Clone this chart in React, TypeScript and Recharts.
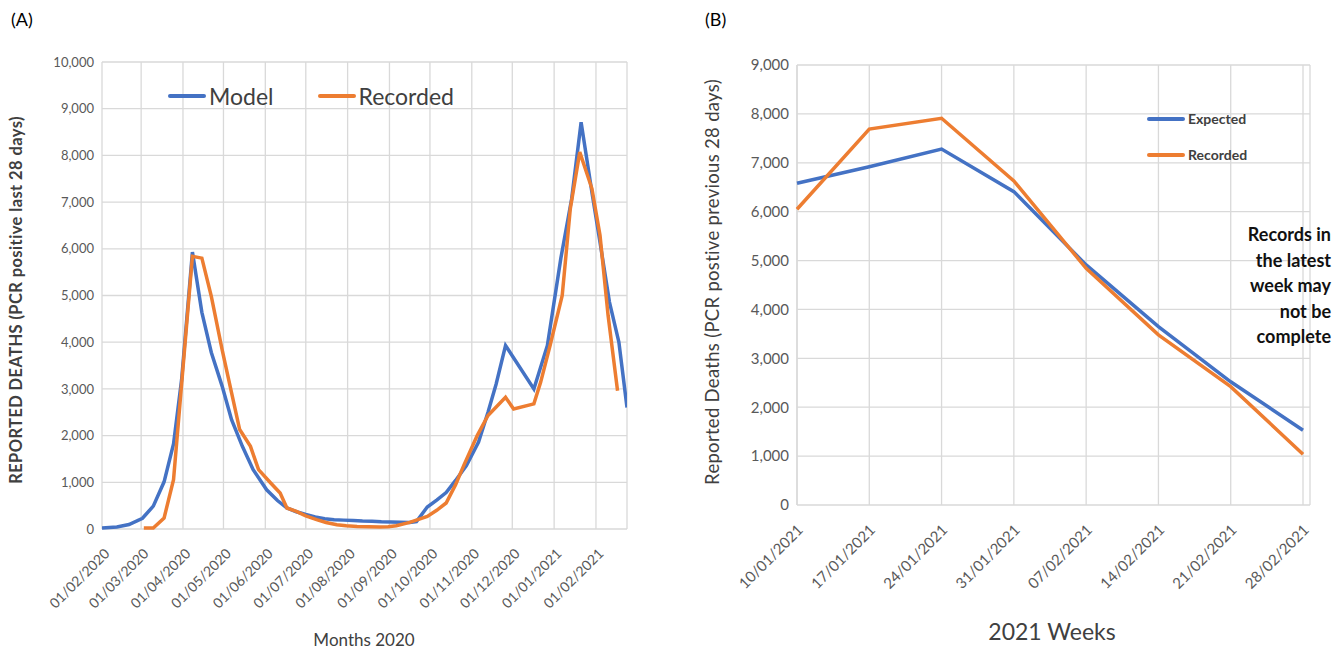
import React from 'react';
import { LineChart, Line, XAxis, YAxis, CartesianGrid } from 'recharts';

const FONT = 'Lato, "Open Sans", sans-serif';
const BLUE = '#4472C4';
const ORANGE = '#ED7D31';
const GRID = '#d9d9d9';
const TICK = '#595959';
const TITLE = '#404040';

// ---- panel A: days since 01/02/2020 ----
const monthTicks = [0, 29, 60, 90, 121, 151, 182, 213, 243, 274, 304, 335, 366];
const monthLabels = [
  '01/02/2020', '01/03/2020', '01/04/2020', '01/05/2020', '01/06/2020', '01/07/2020',
  '01/08/2020', '01/09/2020', '01/10/2020', '01/11/2020', '01/12/2020', '01/01/2021', '01/02/2021',
];
const yTicksA = [0, 1000, 2000, 3000, 4000, 5000, 6000, 7000, 8000, 9000, 10000];

const modelDays = [
  0, 11, 20, 30, 38, 46, 53, 59, 67, 74, 81, 89, 96, 104, 112, 122, 130, 137, 144, 151,
  158, 165, 172, 179, 186, 193, 200, 207, 214, 221, 228, 233, 241, 248, 255, 262, 270, 279,
  286, 292, 299, 320, 330, 340, 348, 355, 363, 369, 376, 383, 389,
];
const modelDeaths = [
  20, 45, 95, 230, 490, 1010, 1820, 3200, 5930, 4640, 3780, 3060, 2340, 1770, 1270, 840, 610, 450, 370, 310,
  260, 220, 200, 190, 180, 170, 165, 155, 150, 145, 140, 160, 470, 620, 780, 1040, 1360, 1860,
  2500, 3100, 3930, 3000, 3930, 5800, 7070, 8710, 7210, 6140, 4860, 4000, 2600,
];

const recordedDays = [
  31, 38, 46, 53, 67, 74, 81, 89, 95, 102, 110, 116, 125, 132, 137, 144, 151, 159, 166, 174,
  181, 189, 197, 206, 212, 218, 228, 241, 248, 255, 262, 268, 278, 286, 299, 305, 320, 325,
  332, 341, 347, 354, 363, 369, 375, 382,
];
const recordedDeaths = [
  20, 20, 235, 1055, 5840, 5800, 4980, 3840, 3050, 2130, 1770, 1270, 985, 770, 450, 377, 280, 200, 140, 92,
  70, 56, 48, 42, 50, 70, 141, 270, 400, 557, 950, 1357, 2000, 2430, 2820, 2570, 2680, 3140,
  3930, 5000, 6860, 8070, 7290, 6290, 4570, 2960,
];

const modelData = modelDays.map((d, i) => ({ day: d, value: modelDeaths[i] }));
const recordedData = recordedDays.map((d, i) => ({ day: d, value: recordedDeaths[i] }));

// ---- panel B: weekly ----
const weeks = ['10/01/2021', '17/01/2021', '24/01/2021', '31/01/2021', '07/02/2021', '14/02/2021', '21/02/2021', '28/02/2021'];
const expectedDeaths = [6580, 6920, 7280, 6410, 4910, 3650, 2520, 1530];
const recordedWeekly = [6050, 7690, 7910, 6630, 4840, 3480, 2420, 1040];
const yTicksB = [0, 1000, 2000, 3000, 4000, 5000, 6000, 7000, 8000, 9000];
const noteLines = ['Records in', 'the latest', 'week may', 'not be', 'complete'];

const weeklyData = weeks.map((w, i) => ({ week: w, expected: expectedDeaths[i], recorded: recordedWeekly[i] }));

const fmt = (v: number) => v.toLocaleString('en-US');

const MonthTick = ({ x, y, payload }: any) => {
  const idx = monthTicks.indexOf(payload.value);
  return (
    <g transform={`translate(${x + 1},${y + 10})`}>
      <text transform="rotate(-45)" textAnchor="end" dy="0.75em" fill={TICK} fontSize={14} fontFamily={FONT}>
        {monthLabels[idx]}
      </text>
    </g>
  );
};

const WeekTick = ({ x, y, payload }: any) => (
  <g transform={`translate(${x - 1},${y + 10})`}>
    <text transform="rotate(-45)" textAnchor="end" dy="0.75em" fill={TICK} fontSize={15} fontFamily={FONT}>
      {payload.value}
    </text>
  </g>
);

const legendLine = (color: string) => (
  <span style={{ display: 'inline-block', width: 38, height: 4, background: color, borderRadius: 2, marginRight: 3 }} />
);

export default function App() {
  return (
    <div style={{ position: 'fixed', left: 0, top: 0, width: 1344, height: 650, background: '#fff', fontFamily: FONT }}>
      {/* panel A */}
      <div style={{ position: 'absolute', left: 11, top: 8, fontSize: 18, color: '#000' }}>(A)</div>
      <div style={{ position: 'absolute', left: 0, top: 0 }}>
        <LineChart width={640} height={650} margin={{ top: 62, right: 13, left: 0, bottom: 41 }}>
          <CartesianGrid stroke={GRID} strokeWidth={1.3} />
          <XAxis
            type="number"
            dataKey="day"
            domain={[0, 389]}
            ticks={monthTicks}
            allowDataOverflow
            axisLine={false}
            tickLine={false}
            height={80}
            tick={<MonthTick />}
            label={{
              content: () => (
                <text x={364} y={646} textAnchor="middle" fill={TITLE} fontSize={17} fontFamily={FONT}>Months 2020</text>
              ),
            }}
          />
          <YAxis
            type="number"
            domain={[0, 10000]}
            ticks={yTicksA}
            width={102}
            axisLine={false}
            tickLine={false}
            tickFormatter={fmt}
            tick={{ fill: TICK, fontSize: 13, fontFamily: FONT }}
            label={{
              content: () => (
                <text x={22} y={300} transform="rotate(-90 22 300)" textAnchor="middle" fill={TITLE} fontSize={16.5} letterSpacing={0.4} fontWeight="bold" fontFamily={FONT}>
                  REPORTED DEATHS (PCR positive last 28 days)
                </text>
              ),
            }}
          />
          <Line data={modelData} dataKey="value" name="Model" stroke={BLUE} strokeWidth={3.5} dot={false} isAnimationActive={false} />
          <Line data={recordedData} dataKey="value" name="Recorded" stroke={ORANGE} strokeWidth={3.5} dot={false} isAnimationActive={false} />
        </LineChart>
      </div>
      <div style={{ position: 'absolute', left: 168, top: 82, display: 'flex', alignItems: 'center', fontSize: 23, color: TITLE }}>
        {legendLine(BLUE)}<span>Model</span>
        <span style={{ width: 44 }} />
        {legendLine(ORANGE)}<span>Recorded</span>
      </div>

      {/* panel B */}
      <div style={{ position: 'absolute', left: 705, top: 8, fontSize: 18, color: '#000' }}>(B)</div>
      <div style={{ position: 'absolute', left: 660, top: 0 }}>
        <LineChart width={684} height={650} data={weeklyData} margin={{ top: 65, right: 34, left: 0, bottom: 45 }}>
          <CartesianGrid stroke={GRID} strokeWidth={1.3} />
          <XAxis
            dataKey="week"
            axisLine={false}
            tickLine={false}
            height={100}
            padding={{ left: 0, right: 7 }}
            interval={0}
            tick={<WeekTick />}
            label={{
              content: () => (
                <text x={392} y={640} textAnchor="middle" fill={TITLE} fontSize={23} fontFamily={FONT}>2021 Weeks</text>
              ),
            }}
          />
          <YAxis
            type="number"
            domain={[0, 9000]}
            ticks={yTicksB}
            width={137}
            axisLine={false}
            tickLine={false}
            tickFormatter={fmt}
            tick={{ fill: TICK, fontSize: 15, fontFamily: FONT }}
            label={{
              content: () => (
                <text x={59} y={282} transform="rotate(-90 59 282)" textAnchor="middle" fill={TITLE} fontSize={18.5} letterSpacing={0.3} fontFamily={FONT}>
                  Reported Deaths (PCR postive previous 28 days)
                </text>
              ),
            }}
          />
          <Line dataKey="expected" name="Expected" stroke={BLUE} strokeWidth={3.5} dot={false} isAnimationActive={false} />
          <Line dataKey="recorded" name="Recorded" stroke={ORANGE} strokeWidth={3.5} dot={false} isAnimationActive={false} />
        </LineChart>
      </div>
      <div style={{ position: 'absolute', left: 1147, top: 109, fontSize: 14, fontWeight: 'bold', color: TITLE, lineHeight: '20px' }}>
        <div style={{ display: 'flex', alignItems: 'center' }}>{legendLine(BLUE)}<span>Expected</span></div>
        <div style={{ display: 'flex', alignItems: 'center', marginTop: 16 }}>{legendLine(ORANGE)}<span>Recorded</span></div>
      </div>
      <div style={{ position: 'absolute', right: 13, top: 222, textAlign: 'right', fontSize: 18, fontWeight: 'bold', color: '#111', lineHeight: '25.5px' }}>
        {noteLines.map((l) => <div key={l}>{l}</div>)}
      </div>
    </div>
  );
}
